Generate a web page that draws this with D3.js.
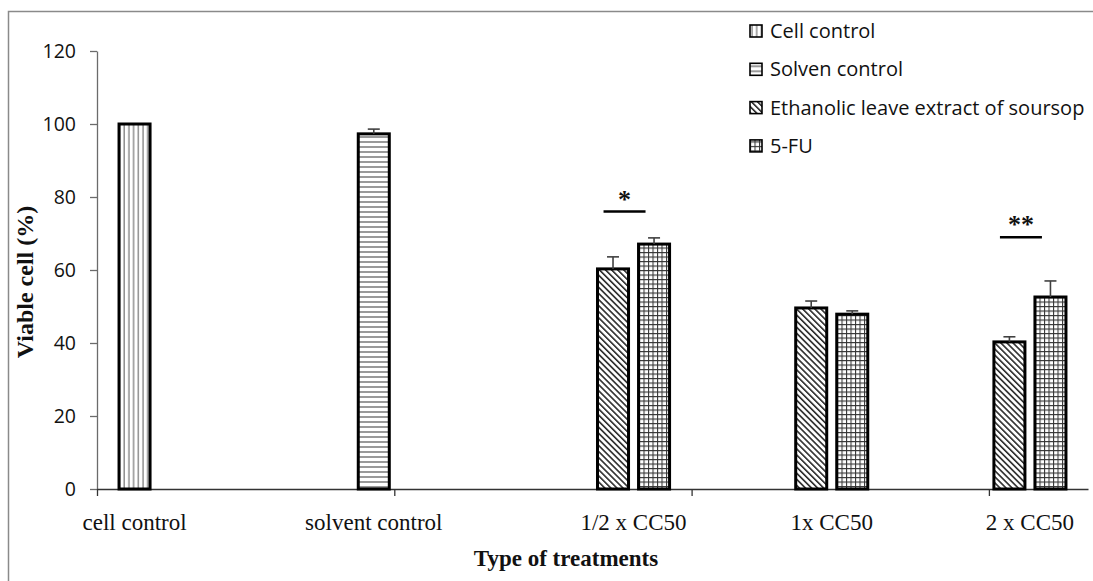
<!DOCTYPE html>
<html>
<head>
<meta charset="utf-8">
<script src="https://cdn.jsdelivr.net/npm/d3@7"></script>
<style>
  html, body { margin: 0; padding: 0; background: #fff; overflow: hidden; }
  svg { display: block; }
</style>
</head>
<body>
<div id="chart"></div>
<script>
// chart values
const categories = ["cell control", "solvent control", "1/2 x CC50", "1x CC50", "2 x CC50"];
const seriesNames = ["Cell control", "Solven control", "Ethanolic leave extract of soursop", "5-FU"];
const cellControl = [100, null, null, null, null];
const solventControl = [null, 97.3, null, null, null];
const ethanolic = [null, null, 60.3, 49.6, 40.3];
const fiveFU = [null, null, 67.1, 47.9, 52.6];
const cellControlErr = [0, null, null, null, null];
const solventControlErr = [null, 1.3, null, null, null];
const ethanolicErr = [null, null, 3.3, 1.9, 1.4];
const fiveFUErr = [null, null, 1.7, 0.9, 4.4];
const yTicks = [0, 20, 40, 60, 80, 100, 120];
const xTickSteps = [0, 1.5, 3, 4.5];   // category-axis tick marks, in category units
const sigCategories = ["1/2 x CC50", "2 x CC50"];
const sigLabels = ["*", "**"];
const sigLevels = [76, 69];

const width = 1093, height = 581;
const margin = { top: 51, right: 5, bottom: 92, left: 97 };
const plotRight = width - margin.right;
const plotBottom = height - margin.bottom;

const values = [cellControl, solventControl, ethanolic, fiveFU];
const errors = [cellControlErr, solventControlErr, ethanolicErr, fiveFUErr];
const patternIds = ["pVert", "pHoriz", "pDiag", "pGrid"];

const rows = [];
categories.forEach((c, ci) => {
  seriesNames.forEach((s, si) => {
    const v = values[si][ci];
    if (v != null) rows.push({ cat: c, series: si, value: v, err: errors[si][ci] || 0 });
  });
});

const svg = d3.select("#chart").append("svg")
  .attr("width", width)
  .attr("height", height)
  .attr("viewBox", [0, 0, width, height]);

// hatch patterns like the Excel fills
const defs = svg.append("defs");
const pv = defs.append("pattern").attr("id", "pVert").attr("patternUnits", "userSpaceOnUse")
  .attr("width", 4.7).attr("height", 10);
pv.append("rect").attr("width", 4.7).attr("height", 10).attr("fill", "#fff");
pv.append("line").attr("x1", 2).attr("x2", 2).attr("y1", 0).attr("y2", 10)
  .attr("stroke", "#555").attr("stroke-width", 1);

const ph = defs.append("pattern").attr("id", "pHoriz").attr("patternUnits", "userSpaceOnUse")
  .attr("width", 10).attr("height", 5);
ph.append("rect").attr("width", 10).attr("height", 5).attr("fill", "#fff");
ph.append("line").attr("x1", 0).attr("x2", 10).attr("y1", 2).attr("y2", 2)
  .attr("stroke", "#555").attr("stroke-width", 1.2);

const pd = defs.append("pattern").attr("id", "pDiag").attr("patternUnits", "userSpaceOnUse")
  .attr("width", 4.3).attr("height", 4.3).attr("patternTransform", "rotate(-45)");
pd.append("rect").attr("width", 4.3).attr("height", 4.3).attr("fill", "#fff");
pd.append("line").attr("x1", 0).attr("x2", 0).attr("y1", 0).attr("y2", 4.3)
  .attr("stroke", "#2a2a2a").attr("stroke-width", 3.2);

const pg = defs.append("pattern").attr("id", "pGrid").attr("patternUnits", "userSpaceOnUse")
  .attr("width", 4.5).attr("height", 4.5);
pg.append("rect").attr("width", 4.5).attr("height", 4.5).attr("fill", "#fff");
pg.append("path").attr("d", "M0,0.5H4.5M0.5,0V4.5").attr("stroke", "#333").attr("stroke-width", 1.1).attr("fill", "none");

// outer frame: only the left and top edges fall inside the picture
svg.append("path")
  .attr("d", `M8.5,${height}V11.5H${width}`)
  .attr("fill", "none").attr("stroke", "#8a8a8a").attr("stroke-width", 1.5);

const x0 = d3.scaleBand().domain(categories).range([margin.left, plotRight]).padding(0);
const x1 = d3.scaleBand().domain(d3.range(seriesNames.length)).range([0, x0.bandwidth()])
  .paddingInner(0.244).paddingOuter(0.537);
const xTickScale = d3.scaleLinear().domain([0, categories.length]).range([margin.left, plotRight]);
const y = d3.scaleLinear().domain([0, 120]).range([plotBottom, margin.top]);

// y axis
const yAxis = svg.append("g")
  .attr("transform", `translate(${margin.left},0)`)
  .call(d3.axisLeft(y).tickValues(yTicks).tickSize(7).tickPadding(14).tickSizeOuter(0));
yAxis.select(".domain").attr("stroke", "#6b6b6b").attr("stroke-width", 1.3);
yAxis.selectAll(".tick line").attr("stroke", "#6b6b6b").attr("stroke-width", 1.3);
yAxis.selectAll(".tick text")
  .attr("font-family", "'Open Sans', sans-serif")
  .attr("font-size", 19.5)
  .attr("fill", "#111");

// x axis: only the tick marks, labels are placed under the bars
const xAxis = svg.append("g")
  .attr("transform", `translate(0,${plotBottom})`)
  .call(d3.axisBottom(xTickScale).tickValues(xTickSteps).tickSize(7).tickFormat("").tickSizeOuter(0));
xAxis.select(".domain").attr("stroke", "#333").attr("stroke-width", 1.3);
xAxis.selectAll(".tick line").attr("stroke", "#333").attr("stroke-width", 1.3);

// bars
svg.append("g").selectAll("rect")
  .data(rows)
  .join("rect")
  .attr("x", d => x0(d.cat) + x1(d.series))
  .attr("y", d => y(d.value))
  .attr("width", x1.bandwidth())
  .attr("height", d => y(0) - y(d.value))
  .attr("fill", d => `url(#${patternIds[d.series]})`)
  .attr("stroke", "#000")
  .attr("stroke-width", 3);

// error bars (upper half only, Excel style)
const eb = svg.append("g").attr("stroke", "#404040").attr("stroke-width", 1.6)
  .selectAll("g").data(rows.filter(d => d.err > 0)).join("g");
eb.append("line")
  .attr("x1", d => x0(d.cat) + x1(d.series) + x1.bandwidth() / 2)
  .attr("x2", d => x0(d.cat) + x1(d.series) + x1.bandwidth() / 2)
  .attr("y1", d => y(d.value))
  .attr("y2", d => y(d.value + d.err));
eb.append("line")
  .attr("x1", d => x0(d.cat) + x1(d.series) + x1.bandwidth() / 2 - 6)
  .attr("x2", d => x0(d.cat) + x1(d.series) + x1.bandwidth() / 2 + 6)
  .attr("y1", d => y(d.value + d.err))
  .attr("y2", d => y(d.value + d.err));

// category labels centered under their drawn bars
const serif = "'Liberation Serif', 'Times New Roman', serif";
const labelCenter = c => {
  const r = rows.filter(d => d.cat === c);
  return d3.mean(r, d => x0(c) + x1(d.series) + x1.bandwidth() / 2);
};
svg.append("g").selectAll("text")
  .data(categories)
  .join("text")
  .attr("x", d => labelCenter(d))
  .attr("y", plotBottom + 41)
  .attr("text-anchor", "middle")
  .attr("font-family", serif)
  .attr("font-size", 23)
  .attr("fill", "#111")
  .text(d => d);

// significance marks
const sig = svg.append("g").selectAll("g")
  .data(sigCategories.map((c, i) => ({ cat: c, label: sigLabels[i], level: sigLevels[i] })))
  .join("g");
sig.append("line")
  .attr("x1", d => labelCenter(d.cat) - 30)
  .attr("x2", d => labelCenter(d.cat) + 12)
  .attr("y1", d => y(d.level))
  .attr("y2", d => y(d.level))
  .attr("stroke", "#000")
  .attr("stroke-width", 2.5);
sig.append("text")
  .attr("x", d => labelCenter(d.cat) - 9)
  .attr("y", d => y(d.level) - 4)
  .attr("text-anchor", "middle")
  .attr("font-family", serif)
  .attr("font-weight", "bold")
  .attr("font-size", 26)
  .attr("fill", "#111")
  .text(d => d.label);

// axis titles
svg.append("text")
  .attr("transform", `translate(33,${(margin.top + plotBottom) / 2 + 12}) rotate(-90)`)
  .attr("text-anchor", "middle")
  .attr("font-family", serif)
  .attr("font-weight", "bold")
  .attr("font-size", 24)
  .attr("fill", "#111")
  .text("Viable cell (%)");

svg.append("text")
  .attr("x", 566)
  .attr("y", height - 15)
  .attr("text-anchor", "middle")
  .attr("font-family", serif)
  .attr("font-weight", "bold")
  .attr("font-size", 23)
  .attr("fill", "#111")
  .text("Type of treatments");

// legend
const legend = svg.append("g").attr("transform", "translate(750,31)")
  .selectAll("g").data(seriesNames).join("g")
  .attr("transform", (d, i) => `translate(0,${i * 38.3})`);
legend.append("rect")
  .attr("x", 0).attr("y", -6)
  .attr("width", 12).attr("height", 12)
  .attr("fill", (d, i) => `url(#${patternIds[i]})`)
  .attr("stroke", "#000").attr("stroke-width", 1.6);
legend.append("text")
  .attr("x", 20)
  .attr("y", 0)
  .attr("dy", "0.35em")
  .attr("font-family", "'Open Sans', sans-serif")
  .attr("font-size", 20)
  .attr("fill", "#111")
  .text(d => d);
</script>
</body>
</html>
